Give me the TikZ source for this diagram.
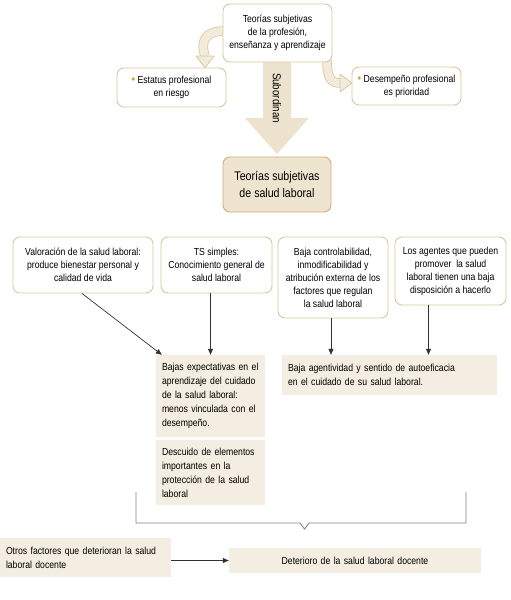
\documentclass[tikz,border=0pt]{standalone}
\usepackage{fontspec}
\setmainfont{Liberation Sans}[FakeStretch=0.85]
\usetikzlibrary{arrows.meta,calc}
\definecolor{tanborder}{HTML}{D8C89E}
\definecolor{tanfill}{HTML}{F4EEE2}
\definecolor{titlefill}{HTML}{EEE4CF}
\definecolor{titleborder}{HTML}{C9B27C}
\definecolor{arrowfill}{HTML}{ECE2CD}
\definecolor{curvefill}{HTML}{F2EBDB}
\definecolor{bulletc}{HTML}{C9A23A}
\definecolor{linec}{HTML}{333333}
\definecolor{bracketc}{HTML}{858585}
\newcommand{\bul}{\textcolor{bulletc}{\large•}\ }
\begin{document}
\begin{tikzpicture}[x=1pt,y=-1pt,
  rbox/.style={draw=tanborder, line width=0.9pt, rounded corners=7pt, fill=white, align=center,
    inner sep=2pt, font=\fontsize{10.2}{13}\selectfont},
  titlebox/.style={draw=titleborder, line width=0.9pt, rounded corners=7pt, fill=titlefill, align=center,
    inner sep=2pt, font=\fontsize{12.5}{17}\selectfont},
  tbox/.style={fill=tanfill, align=left, inner xsep=6pt, inner ysep=3pt, font=\fontsize{10.2}{14}\selectfont},
  conn/.style={draw=linec, line width=0.7pt, -{Triangle[length=6pt,width=5pt]}},
  curvearrow/.style={draw=tanborder, line width=0.8pt, double=curvefill, double distance=8pt},
  curvehead/.style={fill=curvefill, draw=tanborder, line width=0.8pt, line join=round},
  bracket/.style={draw=bracketc, line width=0.9pt},
  ]
\useasboundingbox (0,0) rectangle (511,600);
\fill[white] (0,0) rectangle (511,600);

% curved arrows (behind boxes)
\draw[curvearrow] (224,31) .. controls (205,31) and (200,42) .. (205,56);
\draw[curvehead] (196,56) -- (214,56) -- (205,68) -- cycle;
\draw[curvearrow] (327,60) .. controls (327,78) and (331,83) .. (340,83);
\draw[curvehead] (340,74) -- (340,92) -- (352,83) -- cycle;

% Subordinan block arrow
\fill[arrowfill] (263,62) -- (291,62) -- (291,118) -- (309,118) -- (277,154) -- (245,118) -- (263,118) -- cycle;
\node[rotate=-90, font=\fontsize{11.5}{13}\selectfont, inner sep=0pt] (sub) at (277,98) {Subordinan};

% top boxes
\node[rbox, minimum width=109pt, minimum height=58pt] (top) at (277.5,33)
  {Teorías subjetivas\\de la profesión,\\enseñanza y aprendizaje};
\node[rbox, minimum width=109pt, minimum height=39pt] (left) at (171.5,87.5)
  {\bul Estatus profesional\\en riesgo};
\node[rbox, minimum width=109pt, minimum height=38pt] (right) at (406.5,86)
  {\bul Desempeño profesional\\es prioridad};
\node[titlebox, minimum width=108pt, minimum height=55pt] (title) at (277,184.5)
  {Teorías subjetivas\\de salud laboral};

% second row
\node[rbox, minimum width=140pt, minimum height=56pt] (A) at (83,265)
  {Valoración de la salud laboral:\\produce bienestar personal y\\calidad de vida};
\node[rbox, minimum width=111pt, minimum height=56pt] (B) at (216.5,265)
  {TS simples:\\Conocimiento general de\\salud laboral};
\node[rbox, minimum width=110pt, minimum height=81pt] (C) at (333,277.5)
  {Baja controlabilidad,\\inmodificabilidad y\\atribución externa de los\\factores que regulan\\la salud laboral};
\node[rbox, minimum width=111pt, minimum height=68pt] (D) at (450.5,271)
  {Los agentes que pueden\\promover\ \ la salud\\laboral tienen una baja\\disposición a hacerlo};

% tan boxes
\node[tbox, text width=97pt, minimum height=82pt] (E) at (210.5,396)
  {Bajas expectativas en el\\aprendizaje del cuidado\\de la salud laboral:\\menos vinculada con el\\desempeño.};
\node[tbox, text width=97pt, minimum height=65pt] (F) at (210.5,472.5)
  {Descuido de elementos\\importantes en la\\protección de la salud\\laboral};
\node[tbox, text width=203pt, minimum height=40pt] (G) at (389.5,375)
  {Baja agentividad y sentido de autoeficacia\\en el cuidado de su salud laboral.};
\node[tbox, text width=159pt, minimum height=39pt] (H) at (85.5,557.5)
  {Otros factores que deterioran la salud\\laboral docente};
\node[tbox, text width=240pt, minimum height=25pt, align=center] (I) at (355,560.5)
  {Deterioro de la salud laboral docente};

% connectors
\coordinate (as) at ($(A.south)+(-1,0)$);
\coordinate (et) at ($(E.north west)+(6,0)$);
\coordinate (cs) at ($(C.south)+(-2,0)$);
\coordinate (ds) at ($(D.south)+(-22,0)$);
\draw[conn] (as) -- (et);
\draw[conn] (E.north |- B.south) -- (E.north);
\draw[conn] (cs) -- (cs |- G.north);
\draw[conn] (ds) -- (ds |- G.north);
\draw[conn] (H.east |- I.west) -- (I.west);

% bracket
\coordinate (b1) at (136,492);
\coordinate (b2) at (136,523);
\coordinate (b3) at (466,523);
\coordinate (b4) at (466,492);
\draw[bracket, line join=miter] (b1) -- (b2) -- (300,523) -- (304.5,529) -- (309,523) -- (b3) -- (b4);
\end{tikzpicture}
\end{document}
